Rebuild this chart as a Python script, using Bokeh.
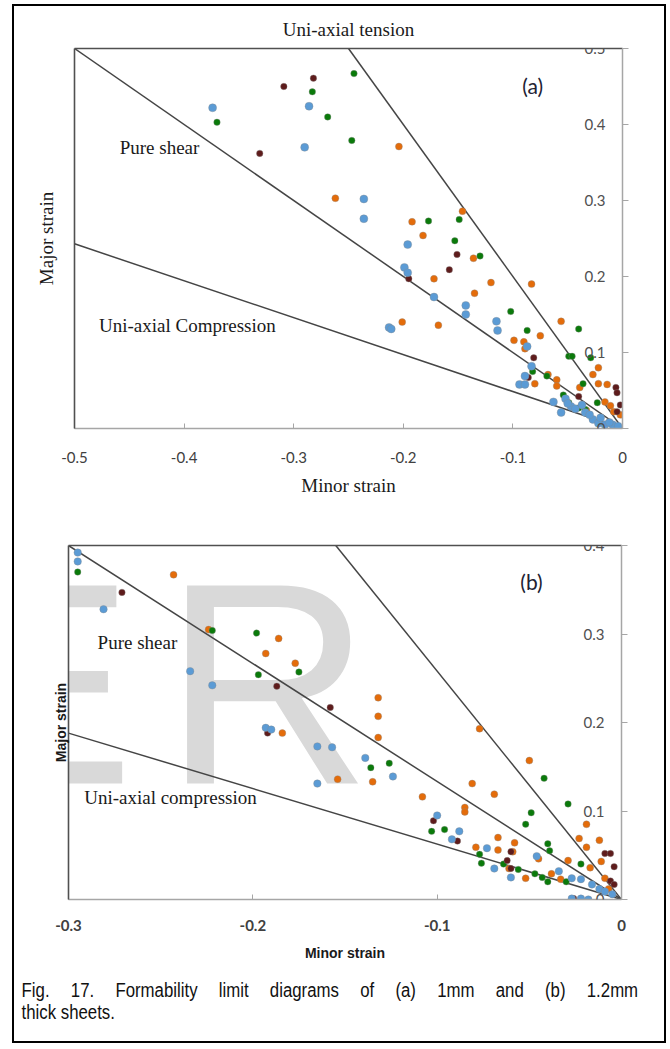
from bokeh.plotting import figure
from bokeh.models import Range1d, LinearAxis, FixedTicker, Label, LabelSet, ColumnDataSource, Div, Grid
from bokeh.layouts import column
from bokeh.core.properties import value
from bokeh.embed import file_html
from bokeh.resources import INLINE

# ---------------- data: chart (a), 1 mm sheet ----------------
a_x_ticks = [-0.5, -0.4, -0.3, -0.2, -0.1, 0.0]
a_x_labels = ["-0.5", "-0.4", "-0.3", "-0.2", "-0.1", "0"]
a_y_ticks = [0.0, 0.1, 0.2, 0.3, 0.4, 0.5]
a_y_labels = ["0", "0.1", "0.2", "0.3", "0.4", "0.5"]

a_blue_minor = [-0.374, -0.286, -0.290, -0.236, -0.236, -0.196, -0.199, -0.196, -0.213, -0.211,
                -0.172, -0.143, -0.143, -0.115, -0.114, -0.087, -0.083, -0.089, -0.094, -0.089,
                -0.063, -0.056, -0.052, -0.047, -0.037, -0.034, -0.027, -0.022, -0.016, -0.009,
                -0.004, -0.050, -0.043, -0.030, -0.020, -0.012]
a_blue_major = [0.422, 0.424, 0.370, 0.302, 0.276, 0.242, 0.212, 0.205, 0.133, 0.131,
                0.173, 0.162, 0.150, 0.141, 0.129, 0.108, 0.082, 0.069, 0.058, 0.058,
                0.035, 0.021, 0.039, 0.029, 0.031, 0.021, 0.012, 0.007, 0.005, 0.005,
                0.003, 0.033, 0.026, 0.018, 0.014, 0.008]
a_orange_minor = [-0.262, -0.204, -0.192, -0.182, -0.146, -0.136, -0.172, -0.120, -0.135, -0.083,
                  -0.201, -0.168, -0.056, -0.075, -0.099, -0.090, -0.089, -0.022, -0.027, -0.068,
                  -0.080, -0.060, -0.060, -0.039, -0.022, -0.014, -0.016, -0.011, -0.033, -0.008,
                  -0.002]
a_orange_major = [0.303, 0.371, 0.272, 0.254, 0.286, 0.224, 0.197, 0.192, 0.178, 0.190,
                  0.140, 0.136, 0.141, 0.122, 0.116, 0.114, 0.105, 0.080, 0.071, 0.071,
                  0.059, 0.064, 0.056, 0.054, 0.059, 0.058, 0.035, 0.030, 0.024, 0.022,
                  0.018]
a_green_minor = [-0.245, -0.283, -0.269, -0.370, -0.247, -0.177, -0.149, -0.153, -0.130, -0.102,
                 -0.087, -0.040, -0.049, -0.046, -0.029, -0.082, -0.069, -0.054, -0.036, -0.023,
                 -0.049, -0.040, -0.034]
a_green_major = [0.467, 0.443, 0.410, 0.403, 0.379, 0.273, 0.275, 0.247, 0.227, 0.154,
                 0.129, 0.131, 0.095, 0.095, 0.093, 0.075, 0.069, 0.044, 0.059, 0.034,
                 0.034, 0.027, 0.025]
a_maroon_minor = [-0.282, -0.309, -0.331, -0.151, -0.158, -0.195, -0.081, -0.086, -0.040, -0.006,
                  -0.005, -0.002, -0.005]
a_maroon_major = [0.461, 0.450, 0.362, 0.229, 0.209, 0.197, 0.093, 0.067, 0.042, 0.054,
                  0.047, 0.031, 0.022]

# strain-path lines (a): [minor end, origin], [major end, origin]
a_tension_minor = [-0.25, 0.0]
a_tension_major = [0.5, 0.0]
a_shear_minor = [-0.5, 0.0]
a_shear_major = [0.5, 0.0]
a_compr_minor = [-0.5, 0.0]
a_compr_major = [0.243, 0.0]

# ---------------- data: chart (b), 1.2 mm sheet ----------------
b_x_ticks = [-0.3, -0.2, -0.1, 0.0]
b_x_labels = ["-0.3", "-0.2", "-0.1", "0"]
b_y_ticks = [0.0, 0.1, 0.2, 0.3, 0.4]
b_y_labels = ["0", "0.1", "0.2", "0.3", "0.4"]

b_blue_minor = [-0.295, -0.295, -0.281, -0.234, -0.222, -0.193, -0.190, -0.165, -0.157, -0.165,
                -0.139, -0.124, -0.100, -0.088, -0.092, -0.073, -0.069, -0.060, -0.046, -0.034,
                -0.027, -0.022, -0.016, -0.012, -0.009, -0.005, -0.027, -0.022, -0.018]
b_blue_major = [0.392, 0.382, 0.328, 0.258, 0.242, 0.194, 0.192, 0.173, 0.172, 0.131,
                0.160, 0.139, 0.095, 0.077, 0.068, 0.058, 0.035, 0.025, 0.049, 0.032,
                0.024, 0.023, 0.017, 0.012, 0.009, 0.006, 0.001, 0.001, 0.0]
b_orange_minor = [-0.243, -0.224, -0.186, -0.193, -0.177, -0.184, -0.154, -0.132, -0.132, -0.132,
                  -0.077, -0.050, -0.135, -0.108, -0.081, -0.069, -0.085, -0.085, -0.019, -0.023,
                  -0.012, -0.019, -0.067, -0.058, -0.079, -0.067, -0.059, -0.011, -0.017, -0.045,
                  -0.029, -0.052, -0.061, -0.038, -0.033, -0.009, -0.007, -0.022]
b_orange_major = [0.367, 0.305, 0.295, 0.278, 0.267, 0.188, 0.136, 0.228, 0.207, 0.183,
                  0.193, 0.157, 0.133, 0.116, 0.131, 0.119, 0.104, 0.099, 0.085, 0.069,
                  0.067, 0.059, 0.070, 0.064, 0.059, 0.056, 0.054, 0.043, 0.036, 0.046,
                  0.044, 0.024, 0.035, 0.029, 0.023, 0.024, 0.012, 0.0]
b_green_minor = [-0.295, -0.222, -0.198, -0.197, -0.175, -0.136, -0.126, -0.042, -0.029, -0.049,
                 -0.052, -0.103, -0.096, -0.077, -0.076, -0.040, -0.039, -0.022, -0.056, -0.047,
                 -0.043, -0.040, -0.030, -0.064]
b_green_major = [0.370, 0.304, 0.301, 0.254, 0.257, 0.149, 0.154, 0.137, 0.108, 0.098,
                 0.085, 0.077, 0.079, 0.051, 0.041, 0.063, 0.055, 0.040, 0.034, 0.029,
                 0.025, 0.020, 0.020, 0.040]
b_maroon_minor = [-0.271, -0.187, -0.158, -0.192, -0.102, -0.089, -0.060, -0.062, -0.060, -0.009,
                  -0.006, -0.004, -0.006, -0.004, -0.026]
b_maroon_major = [0.347, 0.241, 0.217, 0.188, 0.089, 0.066, 0.054, 0.044, 0.035, 0.052,
                  0.052, 0.037, 0.021, 0.017, 0.001]

b_tension_minor = [-0.155, 0.0]
b_tension_major = [0.4, 0.0]
b_shear_minor = [-0.3, 0.0]
b_shear_major = [0.4, 0.0]
b_compr_minor = [-0.3, 0.0]
b_compr_major = [0.188, 0.0]

CAPTION_LINE1 = "Fig. 17. Formability limit diagrams of (a) 1mm and (b) 1.2mm"
CAPTION_LINE2 = "thick sheets."

# ---------------- styles ----------------
BLUE = "#5B9BD5"
ORANGE = "#E46C0A"
GREEN = "#0A7A0A"
MAROON = "#5E1C1C"
LINE = "#454545"
AXIS_GRAY = "#a6a6a6"
FRAME_DARK = "#505050"
SERIF = "Liberation Serif"
TICKFONT = "Lato"


def base_fig(w, h, xr, yr, left, right, top, bottom):
    p = figure(width=w, height=h, x_range=Range1d(*xr), y_range=Range1d(*yr),
               output_backend="svg", toolbar_location=None,
               x_axis_location=None, y_axis_location=None,
               min_border_left=left, min_border_right=right,
               min_border_top=top, min_border_bottom=bottom)
    p.frame_align = False
    p.outline_line_color = None
    p.background_fill_color = "white"
    p.border_fill_color = "white"
    for r in list(p.center):
        if isinstance(r, Grid):
            r.visible = False
    p.grid.grid_line_color = None
    return p


def plain_axis(label, font, size, style, standoff, color=FRAME_DARK):
    ax = LinearAxis(ticker=FixedTicker(ticks=[]), axis_label=label,
                    axis_label_text_font=font, axis_label_text_font_size=size,
                    axis_label_text_font_style=style, axis_label_standoff=standoff,
                    axis_label_text_color="#1a1a1a",
                    major_tick_in=0, major_tick_out=0, minor_tick_in=0, minor_tick_out=0,
                    major_tick_line_color=None, minor_tick_line_color=None,
                    major_label_text_color=None,
                    axis_line_color=color, axis_line_width=1.6)
    return ax


def add_points(p, xs, ys, color, size):
    p.scatter(xs, ys, size=size, fill_color=color, line_color="#8a8a8a",
              line_alpha=0.45, line_width=0.8)


def add_paths(p, paths):
    for xs, ys in paths:
        p.line(xs, ys, line_color=LINE, line_width=1.5)


def add_ylabels(p, ticks, labels):
    src = ColumnDataSource(dict(y=ticks, text=labels))
    p.add_layout(LabelSet(x=0, y="y", text="text", source=src, x_offset=-17,
                          text_align="right", text_baseline="middle",
                          text_font=value(TICKFONT), text_font_size="15px",
                          text_color="#505050"))


def add_right_axis(p, ticks):
    ax = LinearAxis(ticker=FixedTicker(ticks=ticks), major_tick_in=0, major_tick_out=6,
                    minor_tick_line_color=None, major_tick_line_color=AXIS_GRAY,
                    major_label_text_color=None, axis_line_color=AXIS_GRAY, axis_line_width=1.5)
    p.add_layout(ax, "right")


def add_bottom_axis(p, ticks, labels, label, label_font, label_size, label_style,
                    tick_style, tick_standoff, label_standoff):
    ax = LinearAxis(ticker=FixedTicker(ticks=ticks),
                    major_label_overrides=dict(zip(ticks, labels)),
                    major_tick_in=5, major_tick_out=0, minor_tick_line_color=None,
                    major_tick_line_color=AXIS_GRAY, axis_line_color=AXIS_GRAY, axis_line_width=1.5,
                    major_label_text_font=TICKFONT, major_label_text_font_size="15px",
                    major_label_text_font_style=tick_style, major_label_text_color="#404040",
                    major_label_standoff=tick_standoff,
                    axis_label=label, axis_label_text_font=label_font,
                    axis_label_text_font_size=label_size, axis_label_text_font_style=label_style,
                    axis_label_text_color="#1a1a1a", axis_label_standoff=label_standoff)
    p.add_layout(ax, "below")


def note(p, x, y, text, font, size, color="#1a1a1a", align="center", baseline="middle", level=None):
    lab = Label(x=x, y=y, text=text, text_font=font, text_font_size=size,
                text_color=color, text_align=align, text_baseline=baseline)
    if level:
        lab.level = level
    p.add_layout(lab)


# ---------------- chart (a) ----------------
pa = base_fig(650, 494, (-0.5, 0.0), (0.0, 0.5), 60, 42, 42, 72)
pa.add_layout(plain_axis("Major strain", SERIF, "19px", "normal", 18), "left")
pa.add_layout(plain_axis("Uni-axial tension", SERIF, "19px", "normal", 9), "above")
add_right_axis(pa, a_y_ticks)
add_bottom_axis(pa, a_x_ticks, a_x_labels, "Minor strain", SERIF, "19px", "normal",
                "normal", 23, 9)
add_paths(pa, [(a_tension_minor, a_tension_major), (a_shear_minor, a_shear_major),
               (a_compr_minor, a_compr_major)])
add_points(pa, a_orange_minor, a_orange_major, ORANGE, 7)
add_points(pa, a_green_minor, a_green_major, GREEN, 6.5)
add_points(pa, a_maroon_minor, a_maroon_major, MAROON, 6.5)
add_points(pa, a_blue_minor, a_blue_major, BLUE, 8)
add_ylabels(pa, a_y_ticks, a_y_labels)
note(pa, -0.4224, 0.3697, "Pure shear", SERIF, "19px")
note(pa, -0.397, 0.1355, "Uni-axial Compression", SERIF, "19px")
note(pa, -0.082, 0.451, "(a)", TICKFONT, "21px", color="#222233")

# ---------------- chart (b) ----------------
pb = base_fig(650, 470, (-0.3, 0.0), (0.0, 0.4), 54, 43, 45, 71)
# watermark letters behind the data
note(pb, -0.3684, 0.244, "E", "Liberation Sans", "288px", color="#d9d9d9",
     align="left", baseline="middle", level="underlay")
note(pb, -0.2485, 0.244, "R", "Liberation Sans", "288px", color="#d9d9d9",
     align="left", baseline="middle", level="underlay")
pb.add_layout(plain_axis("Major strain", "Liberation Sans", "14px", "bold", 0), "left")
pb.add_layout(plain_axis("", SERIF, "17px", "normal", 0), "above")
add_right_axis(pb, b_y_ticks)
add_bottom_axis(pb, b_x_ticks, b_x_labels, "Minor strain", "Liberation Sans", "14px", "bold",
                "bold", 20, 11)
add_paths(pb, [(b_tension_minor, b_tension_major), (b_shear_minor, b_shear_major),
               (b_compr_minor, b_compr_major)])
add_points(pb, b_orange_minor, b_orange_major, ORANGE, 7)
add_points(pb, b_green_minor, b_green_major, GREEN, 6.5)
add_points(pb, b_maroon_minor, b_maroon_major, MAROON, 6.5)
add_points(pb, b_blue_minor, b_blue_major, BLUE, 7.5)
add_ylabels(pb, b_y_ticks, b_y_labels)
note(pb, -0.1622, 0.4203, "Uni-axial tension", SERIF, "17px")
note(pb, -0.2626, 0.2904, "Pure shear", SERIF, "19px")
note(pb, -0.2447, 0.1153, "Uni-axial compression", SERIF, "19px")
note(pb, -0.0488, 0.3593, "(b)", TICKFONT, "21px", color="#222233")

# ---------------- caption ----------------
caption = Div(
    text=('<div style="font-family:\'Liberation Sans\',Arial,sans-serif;font-size:20px;'
          'color:#111;line-height:22px;width:743px;padding-left:9px;padding-top:9px;'
          'transform:scaleX(0.84);transform-origin:0 0">'
          '<div style="text-align:justify;text-align-last:justify">' + CAPTION_LINE1 + '</div>'
          '<div>' + CAPTION_LINE2 + '</div></div>'),
    width=650, height=71, margin=0)

inner = column(pa, pb, caption, spacing=0,
               styles={"border": "2px solid black", "background-color": "white"})
layout = column(inner, margin=(4, 0, 0, 12))

open("out.html", "w").write(file_html(layout, INLINE))
